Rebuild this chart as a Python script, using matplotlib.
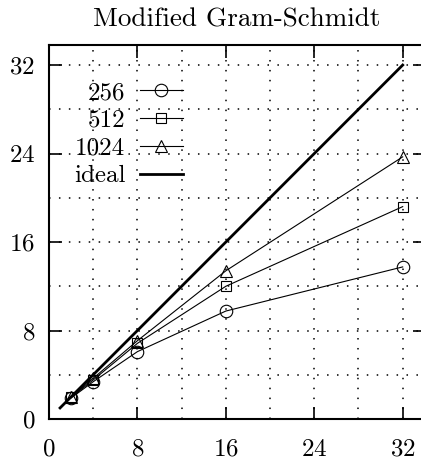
import matplotlib
matplotlib.use("Agg")
import matplotlib.pyplot as plt
from matplotlib.ticker import MultipleLocator

plt.rcParams['font.family'] = ['cmr10', 'DejaVu Serif']
plt.rcParams['axes.formatter.use_mathtext'] = True

procs = [2, 4, 8, 16, 32]
s256 = [1.90, 3.37, 6.09, 9.76, 13.75]
s512 = [1.95, 3.53, 6.84, 12.0, 19.2]
s1024 = [1.97, 3.68, 7.08, 13.4, 23.7]
ideal_x = [1, 32]
ideal_y = [1, 32]
ticks = [0, 8, 16, 24, 32]
title = "Modified Gram-Schmidt"

W, H = 421, 461
fig = plt.figure(figsize=(W / 100, H / 100), dpi=100)
ax = fig.add_axes([49 / W, (H - 419) / H, 375.8 / W, 374.3 / H])

lw = 0.8
ax.plot(procs, s256, color='black', lw=lw, marker='o', ms=9, mfc='none', mec='black', mew=0.8, label='256')
ax.plot(procs, s512, color='black', lw=lw, marker='s', ms=7, mfc='none', mec='black', mew=0.8, label='512')
ax.plot(procs, s1024, color='black', lw=lw, marker='^', ms=9, mfc='none', mec='black', mew=0.8, label='1024')
ax.plot(ideal_x, ideal_y, color='black', lw=2.0, label='ideal')

ax.set_xlim(0, 34)
ax.set_ylim(0, 33.84)
ax.set_xticks(ticks)
ax.set_yticks(ticks)
ax.xaxis.set_minor_locator(MultipleLocator(4))
ax.yaxis.set_minor_locator(MultipleLocator(4))
ax.grid(True, which='both', color='black', lw=1.1, linestyle=(0, (1, 5.5)))
ax.tick_params(which='major', direction='in', length=9, width=1.2, top=True, right=True,
               labelsize=18)
ax.tick_params(axis='y', which='major', pad=10)
ax.tick_params(axis='x', which='major', pad=14)
ax.tick_params(which='minor', length=0)
for s in ax.spines.values():
    s.set_linewidth(1.5)

ax.set_title(title, fontsize=19.5, pad=13)

leg = ax.legend(loc='upper right', bbox_to_anchor=(12.1, 30.5), bbox_transform=ax.transData,
                markerfirst=False, frameon=False, fontsize=18, handlelength=1.7,
                handletextpad=0.6, labelspacing=0.21, borderpad=0, borderaxespad=0)

fig.savefig('out.png', dpi=100)
